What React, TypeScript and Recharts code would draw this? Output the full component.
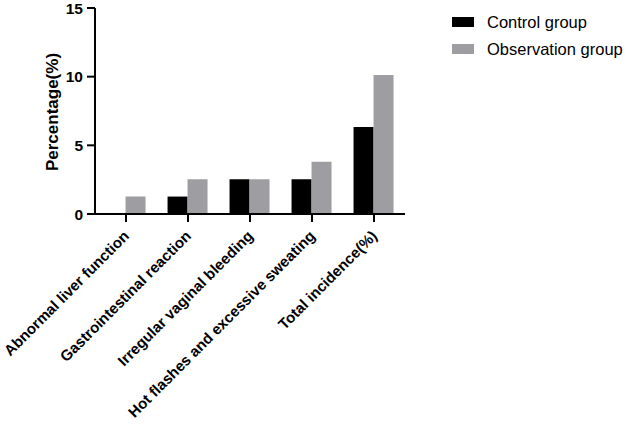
import React from "react";
import { BarChart, Bar, XAxis, YAxis, Label } from "recharts";

const categories = [
  "Abnormal liver function",
  "Gastrointestinal reaction",
  "Irregular vaginal bleeding",
  "Hot flashes and excessive sweating",
  "Total incidence(%)",
];
const controlGroup = [0, 1.27, 2.53, 2.53, 6.33];
const observationGroup = [1.27, 2.53, 2.53, 3.8, 10.13];
const yTicks = [0, 5, 10, 15];

const data = categories.map((c, i) => ({
  name: c,
  control: controlGroup[i],
  observation: observationGroup[i],
}));

const FONT = "'Liberation Sans', Arial, sans-serif";
const BLACK = "#000000";
const GRAY = "#9e9ea2";

const XTick = (props: any) => {
  const { x, y, payload } = props;
  return (
    <g transform={`translate(${x + 4},${y + 13})`}>
      <text
        x={0}
        y={0}
        textAnchor="end"
        transform="rotate(-45)"
        fontFamily={FONT}
        fontWeight="bold"
        fontSize={15.1}
        fill="#000"
      >
        {payload.value}
      </text>
    </g>
  );
};

const YTick = (props: any) => {
  const { x, y, payload } = props;
  return (
    <text
      x={x - 2}
      y={y + 5.5}
      textAnchor="end"
      fontFamily={FONT}
      fontWeight="bold"
      fontSize={15.5}
      fill="#000"
    >
      {payload.value}
    </text>
  );
};

const YLabel = (props: any) => {
  return (
    <text
      x={0}
      y={0}
      transform="translate(52,112) rotate(-90)"
      textAnchor="middle"
      dominantBaseline="central"
      fontFamily={FONT}
      fontWeight="bold"
      fontSize={17}
      fill="#000"
    >
      Percentage(%)
    </text>
  );
};

export default function App() {
  return (
    <div style={{ position: "absolute", left: 0, top: 0, width: 630, height: 427, background: "#fff" }}>
      <BarChart
        width={630}
        height={427}
        data={data}
        margin={{ top: 8, right: 225, bottom: 0, left: 35 }}
        barCategoryGap="17%"
        barGap={0}
      >
        <XAxis
          dataKey="name"
          interval={0}
          axisLine={{ stroke: BLACK, strokeWidth: 2 }}
          tickLine={{ stroke: BLACK, strokeWidth: 2 }}
          tickSize={8}
          tick={<XTick />}
          height={213}
        />
        <YAxis
          domain={[0, 15]}
          ticks={yTicks}
          interval={0}
          width={60}
          axisLine={{ stroke: BLACK, strokeWidth: 2 }}
          tickLine={{ stroke: BLACK, strokeWidth: 2 }}
          tickSize={8}
          tick={<YTick />}
        >
          <Label content={<YLabel />} />
        </YAxis>
        <Bar dataKey="control" fill={BLACK} isAnimationActive={false} />
        <Bar dataKey="observation" fill={GRAY} isAnimationActive={false} />
      </BarChart>
      <div style={{ position: "absolute", left: 452, top: 12, fontFamily: FONT, fontSize: 16.5, color: "#000" }}>
        <div style={{ display: "flex", alignItems: "center", height: 20 }}>
          <div style={{ width: 22, height: 10, background: BLACK, marginRight: 13 }} />
          <span>Control group</span>
        </div>
        <div style={{ display: "flex", alignItems: "center", height: 20, marginTop: 7 }}>
          <div style={{ width: 22, height: 10, background: GRAY, marginRight: 13 }} />
          <span>Observation group</span>
        </div>
      </div>
    </div>
  );
}
